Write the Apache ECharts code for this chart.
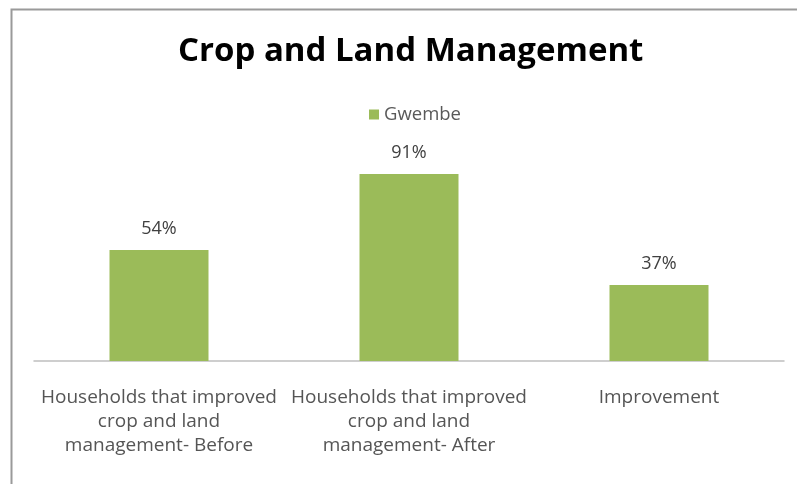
<!DOCTYPE html>
<html><head><meta charset="utf-8">
<script src="https://cdn.jsdelivr.net/npm/echarts@6/dist/echarts.min.js"></script>
<style>html,body{margin:0;padding:0;background:#fff}#c{width:797px;height:484px}</style>
</head><body><div id="c"></div>
<script>
const categories = [
  "Households that improved\ncrop and land\nmanagement- Before",
  "Households that improved\ncrop and land\nmanagement- After",
  "Improvement"
];
const seriesName = "Gwembe";
const values = [0.54, 0.91, 0.37];
const chartTitle = "Crop and Land Management";

const chart = echarts.init(document.getElementById('c'), null, {renderer: 'canvas'});
chart.setOption({
  animation: false,
  backgroundColor: '#fff',
  graphic: [{
    type: 'rect', left: 9, top: 7, z: 100,
    shape: {width: 820, height: 520},
    style: {fill: 'none', stroke: '#9a9a9a', lineWidth: 2}
  }],
  title: {
    text: chartTitle, left: 173, top: 30,
    textStyle: {fontFamily: 'Open Sans', fontWeight: 'bold', fontSize: 33, color: '#000'}
  },
  legend: {
    data: [seriesName], top: 100, left: 364,
    icon: 'rect', itemWidth: 10, itemHeight: 10, itemGap: 5,
    textStyle: {fontFamily: 'Open Sans', fontSize: 18.5, color: '#595959'}
  },
  grid: {left: 34, right: 13, top: 155.5, bottom: 123},
  xAxis: {
    type: 'category', data: categories,
    axisLine: {lineStyle: {color: '#bfbfbf', width: 1.5}},
    axisTick: {show: false},
    axisLabel: {interval: 0, margin: 25, fontFamily: 'Open Sans', fontSize: 19, lineHeight: 24, color: '#555555', verticalAlign: 'top'}
  },
  yAxis: {type: 'value', min: 0, max: 1, show: false, splitLine: {show: false}},
  series: [{
    name: seriesName, type: 'bar', data: values, barWidth: 99,
    itemStyle: {color: '#9bbb59'},
    label: {
      show: true, position: 'top', distance: 12,
      formatter: p => Math.round(p.value * 100) + '%',
      fontFamily: 'Open Sans', fontSize: 18, color: '#404040'
    }
  }]
});
</script></body></html>
